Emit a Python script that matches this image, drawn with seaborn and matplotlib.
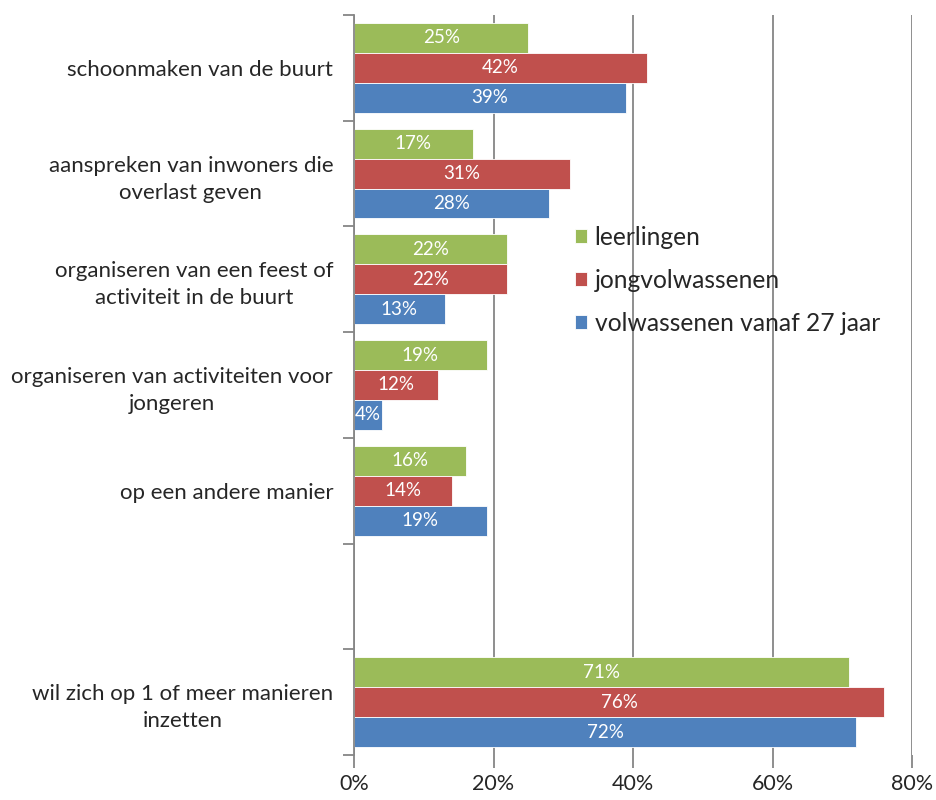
import seaborn as sns
import matplotlib.pyplot as plt
import pandas as pd
from matplotlib.ticker import FixedLocator, FuncFormatter

# categories (top to bottom), the blank one is the empty slot
categories = [
    "schoonmaken van de buurt",
    "aanspreken van inwoners die\noverlast geven",
    "organiseren van een feest of\nactiviteit in de buurt",
    "organiseren van activiteiten voor\njongeren",
    "op een andere manier",
    " ",
    "wil zich op 1 of meer manieren\ninzetten",
]
groups = ["leerlingen", "jongvolwassenen", "volwassenen vanaf 27 jaar"]

leerlingen = [25, 17, 22, 19, 16, None, 71]
jongvolwassenen = [42, 31, 22, 12, 14, None, 76]
volwassenen = [39, 28, 13, 4, 19, None, 72]

colors = ["#9BBB59", "#C0504D", "#4F81BD"]

# long format for seaborn
rows = []
for g, vals in zip(groups, [leerlingen, jongvolwassenen, volwassenen]):
    for c, v in zip(categories, vals):
        if v is not None:
            rows.append({"categorie": c, "groep": g, "pct": v})
df = pd.DataFrame(rows)

sns.set_style("white")
plt.rcParams["font.family"] = ["Lato", "DejaVu Sans"]

fig = plt.figure(figsize=(9.36, 8), dpi=100)
ax = fig.add_axes([354 / 936, 45 / 800, 558 / 936, 740 / 800])

sns.barplot(data=df, y="categorie", x="pct", hue="groep", order=categories,
            hue_order=groups, palette=colors, saturation=1, width=0.85, orient="h",
            edgecolor="white", linewidth=0.6, ax=ax)

# value labels inside the bars
for cont in ax.containers:
    ax.bar_label(cont, fmt="{:.0f}%", label_type="center", color="white", fontsize=13.5)

ax.set_xlim(0, 80)
ax.set_ylim(6.5, -0.5)
ax.set_xlabel("")
ax.set_ylabel("")
ax.xaxis.set_major_locator(FixedLocator([0, 20, 40, 60, 80]))
ax.xaxis.set_major_formatter(FuncFormatter(lambda x, p: f"{x:.0f}%"))
ax.grid(axis="x", color="#868686", linewidth=1.3)
ax.set_axisbelow(True)

for s in ["top", "right", "bottom"]:
    ax.spines[s].set_visible(False)
ax.spines["left"].set_color("#868686")
ax.spines["left"].set_linewidth(1.3)

ax.tick_params(axis="x", direction="out", length=9, width=1.3, color="#868686",
               labelsize=15.5, pad=5, bottom=True)
ax.tick_params(axis="y", which="major", length=0, pad=15, labelsize=16)
ax.yaxis.set_minor_locator(FixedLocator([i - 0.5 for i in range(len(categories) + 1)]))
ax.tick_params(axis="y", which="minor", direction="out", length=8, width=1.3,
               color="#868686", left=True)
for lab in ax.get_yticklabels():
    lab.set_multialignment("center")
    lab.set_linespacing(1.45)

leg = ax.legend(loc="upper left", bbox_to_anchor=(0.396, 0.715), frameon=False,
                fontsize=17.7, handlelength=0.5, handleheight=0.5, handletextpad=0.3,
                labelspacing=0.82, borderpad=0, borderaxespad=0)

fig.savefig("out.png", dpi=100)
